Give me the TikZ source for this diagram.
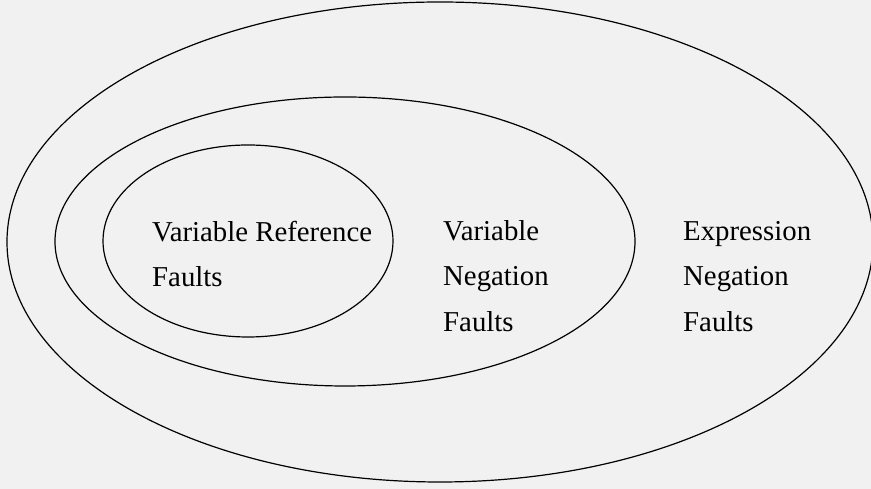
\documentclass[tikz,border=0pt]{standalone}
\usepackage{fontspec}
\setmainfont{Liberation Serif}
\usetikzlibrary{shapes.geometric}
\definecolor{paper}{RGB}{241,241,241}
\begin{document}
\begin{tikzpicture}[x=1pt,y=1pt,
  ring/.style={draw=black,line width=1.2pt,ellipse,inner sep=0pt,outer sep=0pt},
  lbl/.style={anchor=base west,inner sep=0pt,font=\fontsize{28.8}{45}\selectfont,align=left}]
\fill[paper] (0,0) rectangle (871,489);
\useasboundingbox (0,0) rectangle (871,489);
\node[ring,minimum width=866,minimum height=480] (outer) at (440,247) {};
\node[ring,minimum width=580,minimum height=289] (middle) at (345,247.5) {};
\node[ring,minimum width=290,minimum height=192] (inner) at (248,248) {};
\node[lbl] (vr1) at (152,247) {Variable Reference};
\node[lbl] (vr2) at (152,202) {Faults};
\node[lbl] (vn1) at (443,248) {Variable};
\node[lbl] (vn2) at (443,203) {Negation};
\node[lbl] (vn3) at (443,157) {Faults};
\node[lbl] (en1) at (683,248) {Expression};
\node[lbl] (en2) at (683,203) {Negation};
\node[lbl] (en3) at (683,157) {Faults};
\end{tikzpicture}
\end{document}
